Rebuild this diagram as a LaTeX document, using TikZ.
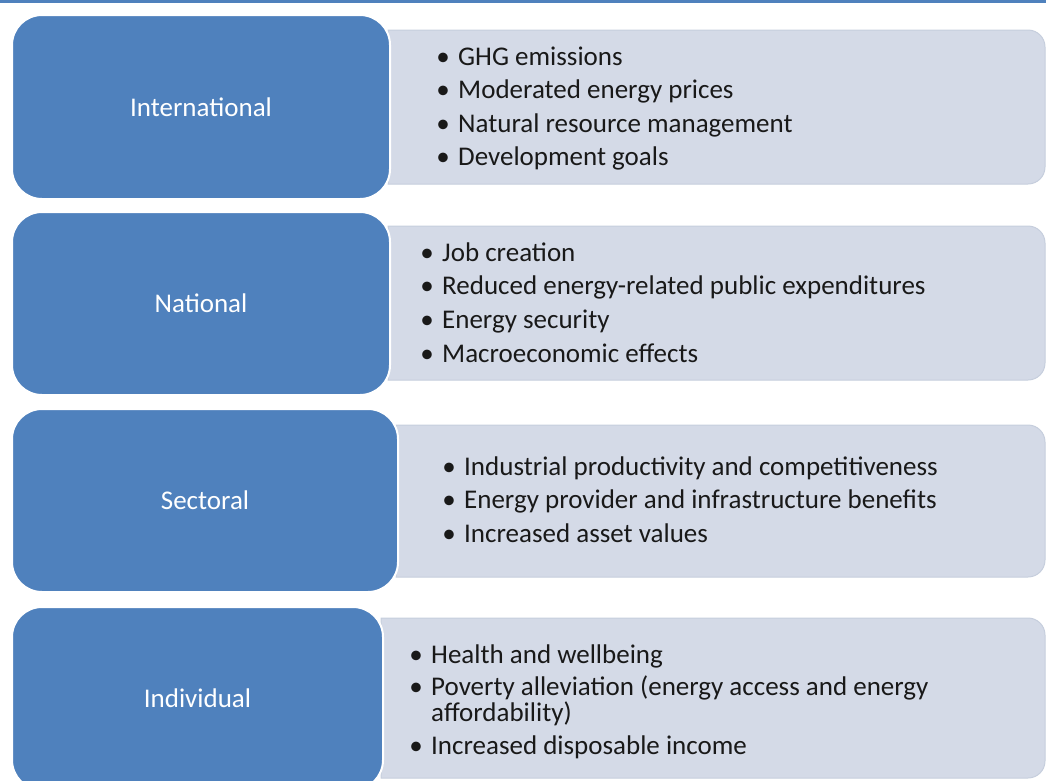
\documentclass[tikz,border=0pt]{standalone}
\usepackage{fontspec}
\setmainfont{Carlito}
\definecolor{blueA}{HTML}{4F81BD}
\definecolor{lightA}{HTML}{D4DAE7}
\definecolor{lightB}{HTML}{C6CEDD}
\newcommand{\bulbox}{\makebox[30pt][c]{\textbullet}}
\newcommand{\nobulbox}{\makebox[30pt][c]{}}
\tikzset{
  bluebox/.style={draw=white, line width=2pt, fill=blueA, rounded corners=30pt,
    text=white, font=\fontsize{27}{30}\selectfont, inner sep=0pt},
  lightbox/.style={draw=lightB, line width=1pt, fill=lightA},
  itemtext/.style={anchor=base west, inner sep=0pt, text=black!90, font=\fontsize{27}{30}\selectfont},
}
\begin{document}
\begin{tikzpicture}[x=1pt,y=-1pt]
\useasboundingbox (0,0) rectangle (1046,780);
\clip (0,0) rectangle (1046,780);
\fill[blueA] (0,0) rectangle (1046,3);
% light boxes
\draw[lightbox] (388,30) -- (1028,30) arc[start angle=-90,end angle=0,radius=17] -- (1045,167) arc[start angle=0,end angle=90,radius=17] -- (388,184) -- cycle;
\draw[lightbox] (388,226) -- (1028,226) arc[start angle=-90,end angle=0,radius=17] -- (1045,363) arc[start angle=0,end angle=90,radius=17] -- (388,380) -- cycle;
\draw[lightbox] (396,425) -- (1028,425) arc[start angle=-90,end angle=0,radius=17] -- (1045,560) arc[start angle=0,end angle=90,radius=17] -- (396,577) -- cycle;
\draw[lightbox] (381,618) -- (1028,618) arc[start angle=-90,end angle=0,radius=17] -- (1045,761) arc[start angle=0,end angle=90,radius=17] -- (381,778) -- cycle;
% blue boxes
\node[bluebox, minimum width=378pt, minimum height=184pt] (intl) at (201,107) {International};
\node[bluebox, minimum width=378pt, minimum height=183pt] (natl) at (201,303.5) {National};
\node[bluebox, minimum width=386pt, minimum height=183pt] (sect) at (205,500.5) {Sectoral};
\node[bluebox, minimum width=371pt, minimum height=183pt] (indv) at (197.5,698.5) {Individual};
% international items
\node[itemtext] (i1) at (428,65) {\bulbox GHG emissions};
\node[itemtext] (i2) at (428,98.5) {\bulbox Moderated energy prices};
\node[itemtext] (i3) at (428,132) {\bulbox Natural resource management};
\node[itemtext] (i4) at (428,165.5) {\bulbox Development goals};
% national items
\node[itemtext] (n1) at (412,261) {\bulbox Job creation};
\node[itemtext] (n2) at (412,294.5) {\bulbox Reduced energy-related public expenditures};
\node[itemtext] (n3) at (412,328) {\bulbox Energy security};
\node[itemtext] (n4) at (412,362) {\bulbox Macroeconomic effects};
% sectoral items
\node[itemtext] (s1) at (434,475) {\bulbox Industrial productivity and competitiveness};
\node[itemtext] (s2) at (434,508.5) {\bulbox Energy provider and infrastructure benefits};
\node[itemtext] (s3) at (434,542) {\bulbox Increased asset values};
% individual items
\node[itemtext] (d1) at (401,663) {\bulbox Health and wellbeing};
\node[itemtext] (d2) at (401,695) {\bulbox Poverty alleviation (energy access and energy};
\node[itemtext] (d3) at (401,721) {\nobulbox affordability)};
\node[itemtext] (d4) at (401,754) {\bulbox Increased disposable income};
\end{tikzpicture}
\end{document}
